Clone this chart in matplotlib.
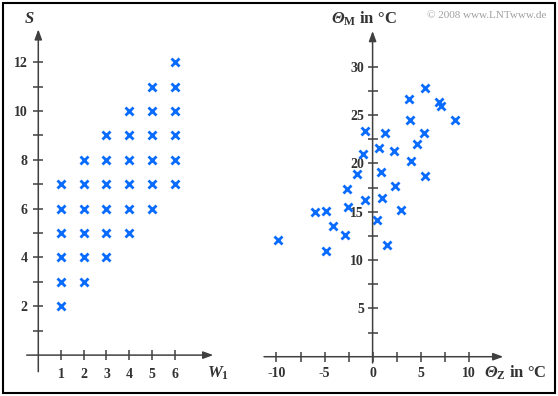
import matplotlib.pyplot as plt
import matplotlib.patches as mpatches
import numpy as np

plt.rcParams['font.family'] = ['Liberation Serif', 'DejaVu Serif']
plt.rcParams['mathtext.fontset'] = 'custom'
plt.rcParams['mathtext.rm'] = 'Liberation Serif:bold'
plt.rcParams['mathtext.it'] = 'Liberation Serif:italic:bold'
plt.rcParams['mathtext.bf'] = 'Liberation Serif:bold'
# italic greek capitals are forced upright in \mathit, so borrow the sf slot
plt.rcParams['mathtext.sf'] = 'Liberation Serif:italic:bold'

# left: two dice, W1 = first die, S = sum of both
w1 = [1, 1, 1, 1, 1, 1, 2, 2, 2, 2, 2, 2, 3, 3, 3, 3, 3, 3,
      4, 4, 4, 4, 4, 4, 5, 5, 5, 5, 5, 5, 6, 6, 6, 6, 6, 6]
s = [2, 3, 4, 5, 6, 7, 3, 4, 5, 6, 7, 8, 4, 5, 6, 7, 8, 9,
     5, 6, 7, 8, 9, 10, 6, 7, 8, 9, 10, 11, 7, 8, 9, 10, 11, 12]

# right: temperatures in degC
theta_z = [5.5, 3.8, 6.9, 7.1, 8.6, 3.9, -0.8, 1.3, 5.4, 4.6, 0.7, 2.2, -1.0,
           4.0, -1.6, 0.85, 5.5, 2.3, -2.65, -0.8, 0.95, -2.55, -6.0, -4.8,
           3.0, 0.47, -4.1, -2.85, -9.8, 1.5, -4.8]
theta_m = [27.85, 26.7, 26.35, 25.98, 24.5, 24.5, 23.4, 23.1, 23.1, 22.05, 21.6,
           21.3, 21.0, 20.2, 18.9, 19.15, 18.7, 17.7, 17.35, 16.25, 16.4, 15.45,
           14.97, 15.1, 15.2, 14.15, 13.5, 12.55, 12.1, 11.6, 10.9]

axis_col = '#404040'
txt_col = '#333333'
blue = '#0a6cff'

fig = plt.figure(figsize=(5.58, 3.96), dpi=100)
W, H = 558.0, 396.0


def make_axes(x0, x1, y0, y1, xlim, ylim):
    # pixel box -> figure fraction
    ax = fig.add_axes([x0 / W, 1 - y1 / H, (x1 - x0) / W, (y1 - y0) / H])
    ax.set_xlim(xlim)
    ax.set_ylim(ylim)
    ax.patch.set_alpha(0)
    for side in ['top', 'right']:
        ax.spines[side].set_visible(False)
    for side in ['left', 'bottom']:
        ax.spines[side].set_position('zero')
        ax.spines[side].set_visible(False)
    ax.annotate('', xy=(xlim[1], 0), xytext=(xlim[0], 0),
                arrowprops=dict(arrowstyle='-|>,head_length=0.6,head_width=0.22',
                                color=axis_col, lw=1.1, shrinkA=0, shrinkB=0),
                annotation_clip=False)
    ax.annotate('', xy=(0, ylim[1]), xytext=(0, ylim[0]),
                arrowprops=dict(arrowstyle='-|>,head_length=0.6,head_width=0.22',
                                color=axis_col, lw=1.1, shrinkA=0, shrinkB=0),
                annotation_clip=False)
    ax.tick_params(direction='inout', length=7.5, width=1.1, color=axis_col,
                   labelcolor=txt_col, labelsize=10)
    return ax


# left plot
ax1 = make_axes(26.7, 213.3, 29.3, 371.7, (-0.51, 7.7), (-0.68, 13.35))
ax1.plot(w1, s, 'x', color=blue, ms=5.5, mew=2.0, clip_on=False)
ax1.set_xticks([1, 2, 3, 4, 5, 6])
ax1.set_xticklabels(['1', '2', '3', '4', '5', '6'], fontweight='bold')
ax1.set_yticks(range(1, 13))
ax1.set_yticklabels(['' if v % 2 else str(v) for v in range(1, 13)], fontweight='bold')
ax1.tick_params(axis='x', pad=5.2)
ax1.tick_params(axis='y', pad=4.0)

# right plot
ax2 = make_axes(264, 503.3, 31, 363, (-11.3, 13.6), (-0.65, 33.7))
ax2.plot(theta_z, theta_m, 'x', color=blue, ms=5.5, mew=2.0, clip_on=False)
xt = [-10, -7.5, -5, -2.5, 0, 2.5, 5, 7.5, 10]
ax2.set_xticks(xt)
ax2.set_xticklabels([str(int(v)) if v % 5 == 0 else '' for v in xt], fontweight='bold')
yt = [2.5, 5, 7.5, 10, 12.5, 15, 17.5, 20, 22.5, 25, 27.5, 30]
ax2.set_yticks(yt)
ax2.set_yticklabels([str(int(v)) if v % 5 == 0 else '' for v in yt], fontweight='bold')
ax2.tick_params(axis='x', pad=4.0)
ax2.tick_params(axis='y', pad=2.3)

# axis titles
fig.text(29 / W, 1 - 19 / H, r'$S$', fontsize=12, color=txt_col, ha='center', va='center')
fig.text(218 / W, 1 - 373 / H, r'$W_\mathrm{1}$', fontsize=12, color=txt_col,
         ha='center', va='center')
fig.text(364 / W, 1 - 19 / H, r'$\mathsf{Θ}_\mathrm{M}$ in °C', fontsize=12, color=txt_col,
         fontweight='bold', ha='center', va='center')
fig.text(515 / W, 1 - 373 / H, r'$\mathsf{Θ}_\mathrm{Z}$ in °C', fontsize=12, color=txt_col,
         fontweight='bold', ha='center', va='center')
fig.text(487 / W, 1 - 15 / H, '© 2008 www.LNTwww.de', fontsize=8, color='#a0a0a0',
         ha='center', va='center')

# frame
fig.patches.append(mpatches.Rectangle((2.7 / W, 3 / H), 552.6 / W, 390.3 / H,
                                      transform=fig.transFigure, fill=False,
                                      edgecolor='black', lw=1.5))

plt.savefig('out.png', dpi=100)
